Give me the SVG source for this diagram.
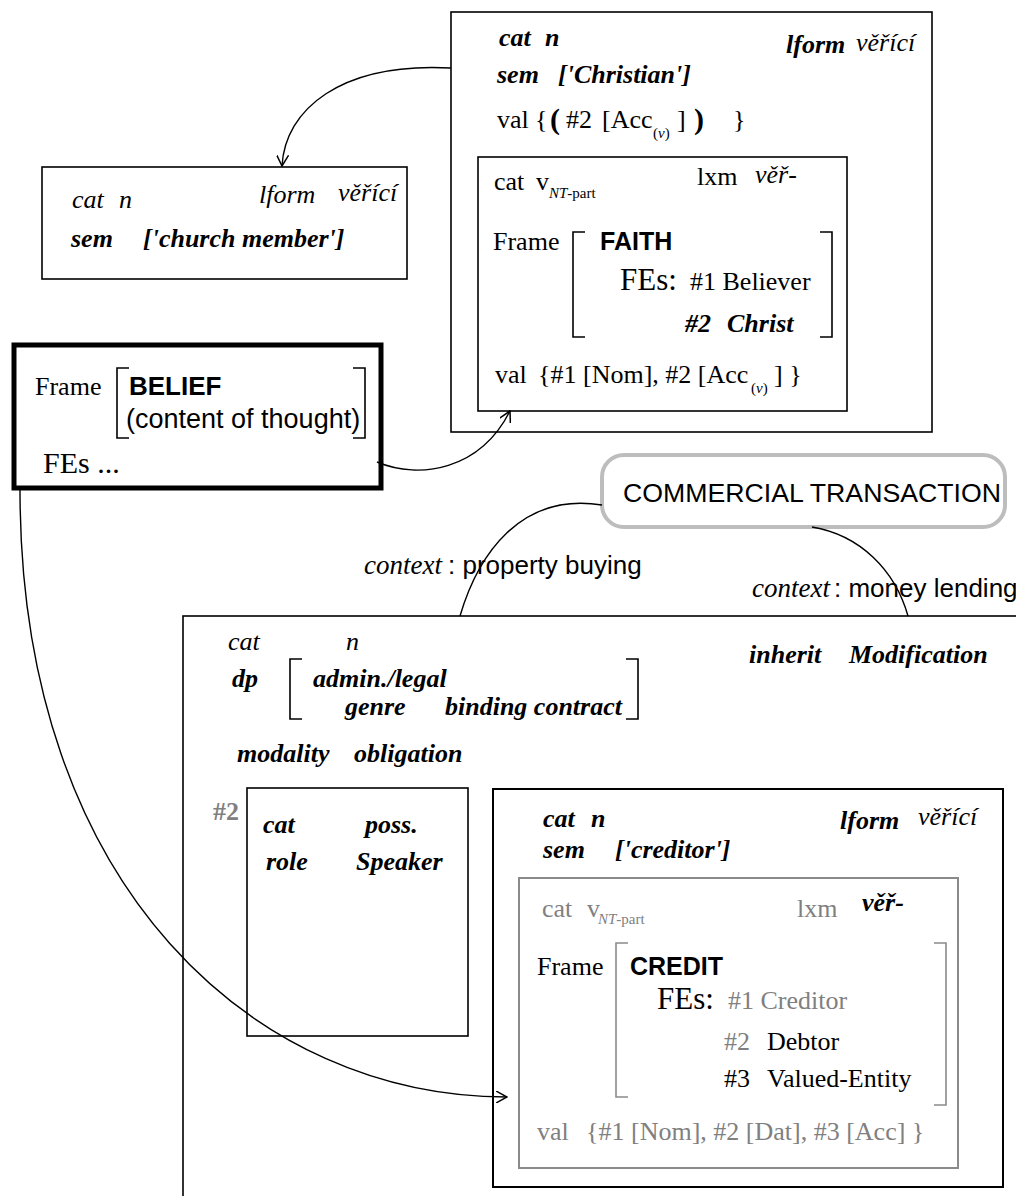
<svg xmlns="http://www.w3.org/2000/svg" width="1016" height="1196" viewBox="0 0 1016 1196">
<style>
.t{font-family:"Liberation Serif","Times New Roman",serif;font-size:26px;fill:#000}
.s{font-family:"Liberation Sans",Arial,sans-serif;font-size:26px;fill:#000}
.b{font-weight:bold}
.i{font-style:italic}
.g{fill:#808080}
.sub{font-size:15px}
.box{fill:none;stroke:#000;stroke-width:1.6}
.br{fill:none;stroke:#000;stroke-width:1.6}
.gbr{fill:none;stroke:#8a8a8a;stroke-width:1.6}
.con{fill:none;stroke:#000;stroke-width:1.4}
</style>
<defs>
<marker id="arr" viewBox="0 0 12 12" refX="11" refY="6" markerWidth="12" markerHeight="12" markerUnits="userSpaceOnUse" orient="auto">
<path d="M0,0 L11,6 L0,12" fill="none" stroke="#000" stroke-width="1.5"/>
</marker>
</defs>
<rect width="1016" height="1196" fill="#fff"/>

<g id="node-christian">
<rect class="box" x="451" y="12" width="481" height="420"/>
<text class="t b i" x="499" y="46">cat</text>
<text class="t b i" x="545" y="46">n</text>
<text class="t b i" x="786" y="53">lform</text>
<text class="t i" x="856" y="51">věřící</text>
<text class="t b i" x="497" y="83">sem</text>
<text class="t b i" x="558" y="83">['Christian']</text>
<text class="t" x="497" y="128">val</text>
<text class="t" x="535" y="128">{</text>
<text class="t b" x="550" y="129" style="font-size:30px">(</text>
<text class="t" x="566" y="128">#2</text>
<text class="t" x="602" y="128">[Acc</text>
<text class="t sub" x="653" y="138">(<tspan class="i">v</tspan>)</text>
<text class="t" x="677" y="128">]</text>
<text class="t b" x="694" y="129" style="font-size:30px">)</text>
<text class="t" x="733" y="128">}</text>
</g>

<g id="node-faith">
<rect class="box" x="478" y="157" width="369" height="254"/>
<text class="t" x="494" y="190">cat</text>
<text class="t" x="536" y="190">v</text>
<text class="t sub" x="549" y="198"><tspan class="i">NT</tspan>-part</text>
<text class="t" x="697" y="185">lxm</text>
<text class="t i" x="755" y="183">věř-</text>
<text class="t" x="493" y="250">Frame</text>
<path class="br" d="M585,232 h-12 v105 h12"/>
<path class="br" d="M820,232 h12 v105 h-12"/>
<text class="s b" x="600" y="250" style="font-size:25px">FAITH</text>
<text class="t" x="620" y="290" style="font-size:31px">FEs:</text>
<text class="t" x="690" y="290">#1 Believer</text>
<text class="t b i" x="685" y="332">#2</text>
<text class="t b i" x="727" y="332">Christ</text>
<text class="t" x="495" y="383">val</text>
<text class="t" x="538" y="383">{#1 [Nom], #2 [Acc</text>
<text class="t sub" x="751" y="393">(<tspan class="i">v</tspan>)</text>
<text class="t" x="774" y="383">] }</text>
</g>

<g id="node-church">
<rect class="box" x="42" y="167" width="365" height="112"/>
<text class="t i" x="72" y="208">cat</text>
<text class="t i" x="119" y="208">n</text>
<text class="t i" x="259" y="203">lform</text>
<text class="t i" x="338" y="201">věřící</text>
<text class="t b i" x="71" y="247">sem</text>
<text class="t b i" x="143" y="247">['church member']</text>
</g>

<g id="node-belief">
<rect x="14" y="345" width="367" height="143" fill="none" stroke="#000" stroke-width="5"/>
<text class="t" x="35" y="395">Frame</text>
<path class="br" d="M129,368 h-12 v70 h12"/>
<path class="br" d="M353,368 h12 v70 h-12"/>
<text class="s b" x="129" y="395">BELIEF</text>
<text class="s" x="126" y="428" style="font-size:27px">(content of thought)</text>
<text class="t" x="43" y="473" style="font-size:30px">FEs ...</text>
</g>

<g id="node-commercial">
<rect x="602" y="455" width="403" height="72" rx="22" fill="#fff" stroke="#bdbdbd" stroke-width="4"/>
<text class="s" x="623" y="502" textLength="378" lengthAdjust="spacingAndGlyphs">COMMERCIAL TRANSACTION</text>
</g>

<g id="node-obligation">
<rect class="box" x="183" y="616" width="900" height="700"/>
<text class="t i" x="228" y="650">cat</text>
<text class="t i" x="346" y="650">n</text>
<text class="t b i" x="232" y="687">dp</text>
<path class="br" d="M302,659 h-12 v60 h12"/>
<path class="br" d="M626,659 h12 v60 h-12"/>
<text class="t b i" x="313" y="687">admin./legal</text>
<text class="t b i" x="345" y="715">genre</text>
<text class="t b i" x="445" y="715">binding contract</text>
<text class="t b i" x="749" y="663">inherit</text>
<text class="t b i" x="849" y="663">Modification</text>
<text class="t b i" x="237" y="762">modality</text>
<text class="t b i" x="354" y="762">obligation</text>
<text class="t b g" x="213" y="820">#2</text>
</g>

<g id="node-speaker">
<rect class="box" x="247" y="788" width="221" height="248"/>
<text class="t b i" x="263" y="833">cat</text>
<text class="t b i" x="365" y="833">poss.</text>
<text class="t b i" x="266" y="870">role</text>
<text class="t b i" x="356" y="870">Speaker</text>
</g>

<g id="node-creditor">
<rect class="box" x="493" y="789" width="510" height="398" style="stroke-width:2"/>
<text class="t b i" x="543" y="827">cat</text>
<text class="t b i" x="591" y="827">n</text>
<text class="t b i" x="840" y="829">lform</text>
<text class="t i" x="918" y="825">věřící</text>
<text class="t b i" x="543" y="858">sem</text>
<text class="t b i" x="615" y="858">['creditor']</text>
</g>

<g id="node-credit">
<rect x="519" y="878" width="439" height="290" fill="none" stroke="#8a8a8a" stroke-width="2"/>
<text class="t g" x="542" y="917">cat</text>
<text class="t g" x="587" y="917">v</text>
<text class="t sub g" x="598" y="924"><tspan class="i">NT</tspan>-part</text>
<text class="t g" x="797" y="917">lxm</text>
<text class="t b i" x="862" y="911">věř-</text>
<text class="t" x="537" y="975">Frame</text>
<path class="gbr" d="M628,943 h-12 v154 h12"/>
<path class="gbr" d="M934,943 h12 v162 h-12"/>
<text class="s b" x="630" y="975" style="font-size:25px">CREDIT</text>
<text class="t" x="657" y="1009" style="font-size:31px">FEs:</text>
<text class="t g" x="728" y="1009">#1 Creditor</text>
<text class="t g" x="724" y="1050">#2</text>
<text class="t" x="767" y="1050">Debtor</text>
<text class="t" x="724" y="1087">#3</text>
<text class="t" x="767" y="1087">Valued-Entity</text>
<text class="t g" x="537" y="1140">val</text>
<text class="t g" x="586" y="1140">{#1 [Nom], #2 [Dat], #3 [Acc] }</text>
</g>

<g id="connectors">
<path class="con" d="M451,68 C340,62 285,110 282,166" marker-end="url(#arr)"/>
<path class="con" d="M377,462 C420,480 480,470 510,411" marker-end="url(#arr)"/>
<path class="con" d="M20,490 C20,890 257,1097 507,1097" marker-end="url(#arr)"/>
<path class="con" d="M460,616 C478,555 520,492 602,505"/>
<path class="con" d="M812,527 C860,535 895,570 908,616"/>
<text class="t i" x="364" y="574" style="font-size:27px">context</text>
<text class="s" x="448" y="574">: property buying</text>
<text class="t i" x="752" y="597" style="font-size:27px">context</text>
<text class="s" x="834" y="597">: money lending</text>
</g>
</svg>
